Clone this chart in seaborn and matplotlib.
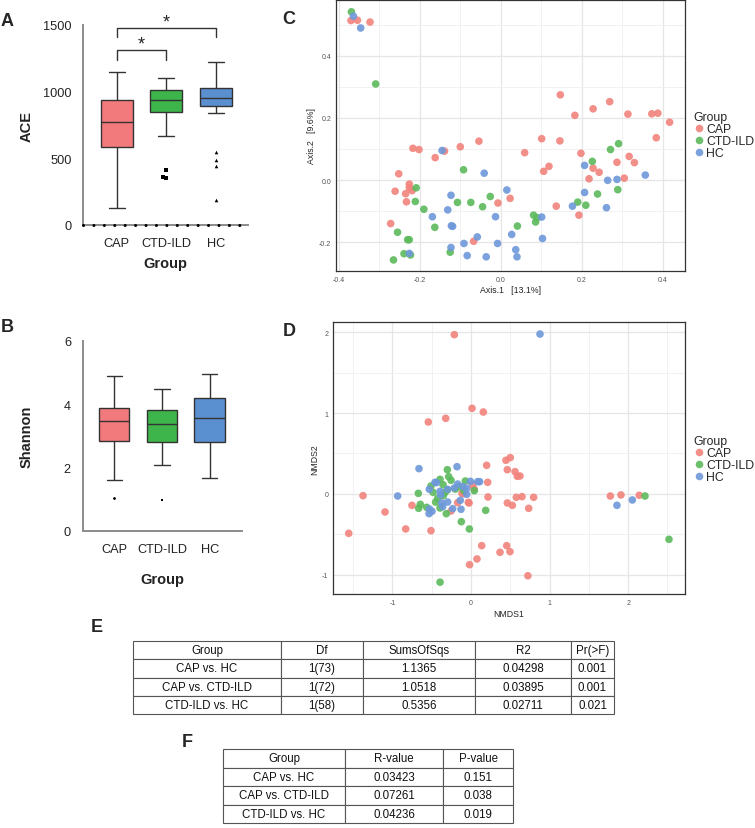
import numpy as np
import pandas as pd
import matplotlib
matplotlib.use('Agg')
import matplotlib.pyplot as plt
import seaborn as sns
from matplotlib.ticker import MultipleLocator, FormatStrFormatter

groups = ['CAP', 'CTD-ILD', 'HC']
box_colors = ['#F27A7D', '#3DB54A', '#5A8FD0']
point_colors = ['#F2837C', '#5CBA5C', '#6E98DA']
group_markers = {'CAP': 'o', 'CTD-ILD': 's', 'HC': '^'}

# min, q1, median, q3, max
ace_summary = {'CAP': [127, 585, 770, 937, 1150],
               'CTD-ILD': [667, 845, 935, 1010, 1105],
               'HC': [837, 890, 955, 1027, 1220]}
ace_outlier_group = ['CTD-ILD', 'CTD-ILD', 'CTD-ILD', 'HC', 'HC', 'HC', 'HC']
ace_outlier_value = [412, 358, 353, 545, 487, 440, 187]

shannon_summary = {'CAP': [1.60, 2.83, 3.45, 3.86, 4.90],
                   'CTD-ILD': [2.06, 2.81, 3.36, 3.82, 4.46],
                   'HC': [1.65, 2.79, 3.55, 4.18, 4.94]}
shannon_outlier_group = ['CAP', 'CTD-ILD']
shannon_outlier_value = [1.04, 0.97]

# PCoA (panel C)
pcoa_cap_x = [-0.370, -0.354, -0.323, -0.217, -0.202, -0.139, -0.100, -0.054, -0.162, -0.252, -0.226,
              -0.226, -0.219, -0.261, -0.235, -0.233, 0.023, -0.007, -0.272, -0.067, 0.147, 0.269,
              0.228, 0.183, 0.314, 0.373, 0.388, 0.417, 0.101, 0.146, 0.384, 0.059, 0.198, 0.317,
              0.287, 0.330, 0.119, 0.228, 0.106, 0.243, 0.218, 0.305, 0.137, 0.193]
pcoa_cap_y = [0.513, 0.514, 0.508, 0.102, 0.098, 0.093, 0.107, 0.125, 0.072, 0.020, -0.013,
              -0.025, -0.034, -0.036, -0.044, -0.070, -0.059, -0.074, -0.140, -0.197, 0.274, 0.252,
              0.229, 0.208, 0.212, 0.213, 0.215, 0.186, 0.133, 0.126, 0.136, 0.088, 0.086, 0.076,
              0.057, 0.056, 0.044, 0.038, 0.028, 0.025, 0.004, 0.006, -0.084, -0.113]
pcoa_ctd_x = [-0.369, -0.309, -0.092, -0.209, -0.026, -0.211, -0.107, -0.074, -0.190, -0.045, -0.163,
              -0.255, -0.230, -0.226, -0.125, -0.239, -0.223, -0.265, 0.291, 0.271, 0.226, 0.289,
              0.239, 0.190, 0.210, 0.081, 0.090, 0.086, 0.041]
pcoa_ctd_y = [0.541, 0.309, 0.033, -0.025, -0.053, -0.069, -0.072, -0.072, -0.094, -0.086, -0.152,
              -0.168, -0.192, -0.192, -0.232, -0.237, -0.241, -0.257, 0.117, 0.098, 0.060, -0.031,
              -0.045, -0.071, -0.081, -0.113, -0.121, -0.135, -0.148]
pcoa_hc_x = [-0.364, -0.346, -0.145, -0.041, -0.123, 0.015, -0.131, -0.169, -0.013, -0.122, -0.119,
             -0.058, -0.091, -0.008, -0.123, 0.027, -0.226, -0.083, -0.036, 0.207, 0.357, 0.287,
             0.264, 0.207, 0.177, 0.261, 0.101, 0.103, 0.037, 0.040]
pcoa_hc_y = [0.527, 0.489, 0.095, 0.022, -0.049, -0.032, -0.096, -0.118, -0.118, -0.147, -0.149,
             -0.183, -0.204, -0.204, -0.217, -0.175, -0.236, -0.243, -0.247, 0.047, 0.016, 0.002,
             -0.001, -0.040, -0.084, -0.089, -0.119, -0.188, -0.224, -0.247]

# NMDS (panel D)
nmds_cap_x = [-0.212, 0.013, 0.157, -0.543, -0.322, -1.556, -1.374, -1.094, -0.831, -0.509, -0.751,
              0.199, 0.212, 0.216, 0.445, 0.500, 0.462, 0.560, 0.589, 0.623, 0.577, 0.649, 0.797,
              0.462, 0.526, 0.734, 0.136, 0.076, 0.369, 0.454, 0.496, -0.018, 0.724, 1.773, 1.908,
              2.141, 0.021, -0.115, -0.025, -0.254, -0.034, -0.170, 0.040, -0.093]
nmds_cap_y = [1.967, 1.058, 1.012, 0.889, 0.934, -0.486, -0.021, -0.222, -0.432, -0.453, -0.140,
              0.354, 0.144, -0.037, 0.416, 0.449, 0.300, 0.276, 0.218, 0.222, -0.041, -0.033, -0.041,
              -0.111, -0.140, -0.177, -0.638, -0.802, -0.720, -0.638, -0.712, -0.873, -1.010, -0.025,
              -0.012, -0.016, 0.111, 0.008, -0.111, -0.210, -0.103, -0.107, 0.060, 0.004]
nmds_ctd_x = [-0.301, -0.284, -0.254, -0.394, -0.356, -0.509, -0.483, -0.072, -0.089, 0.042, -0.424,
              -0.352, -0.394, -0.314, -0.564, -0.670, -0.645, -0.666, 0.187, -0.123, -0.021, 2.214,
              2.519, -0.394, -0.200, -0.300, -0.450, -0.330, -0.150]
nmds_ctd_y = [0.300, 0.214, 0.169, 0.181, 0.115, 0.099, 0.021, 0.160, 0.041, 0.041, -0.053,
              -0.021, -0.173, -0.243, -0.165, 0.008, -0.128, -0.177, -0.202, -0.342, -0.432, -0.025,
              -0.560, -1.089, 0.060, 0.050, -0.100, 0.020, 0.090]
nmds_hc_x = [-0.933, -0.662, -0.178, -0.458, -0.530, -0.394, -0.297, -0.170, -0.212, -0.102, -0.008,
             0.110, -0.055, -0.055, -0.136, -0.127, -0.233, -0.297, -0.373, -0.386, -0.360, -0.496,
             -0.530, -0.534, 0.085, 0.878, 2.053, 1.857, -0.440]
nmds_hc_y = [-0.025, 0.313, 0.337, 0.144, 0.058, 0.033, 0.058, 0.123, 0.074, 0.091, 0.156,
             0.152, 0.070, -0.004, -0.078, -0.189, -0.181, -0.099, -0.111, -0.012, -0.156, -0.214,
             -0.185, -0.243, 0.152, 1.975, -0.074, -0.140, 0.140]

# PERMANOVA (panel E) and ANOSIM (panel F)
comparisons = ['CAP vs. HC', 'CAP vs. CTD-ILD', 'CTD-ILD vs. HC']
permanova_cols = ['Group', 'Df', 'SumsOfSqs', 'R2', 'Pr(>F)']
permanova_df = ['1(73)', '1(72)', '1(58)']
permanova_ss = ['1.1365', '1.0518', '0.5356']
permanova_r2 = ['0.04298', '0.03895', '0.02711']
permanova_p = ['0.001', '0.001', '0.021']
anosim_cols = ['Group', 'R-value', 'P-value']
anosim_r = ['0.03423', '0.07261', '0.04236']
anosim_p = ['0.151', '0.038', '0.019']

W, H = 755, 829


def px_axes(fig, left, top, right, bottom):
    return fig.add_axes([left / W, 1 - bottom / H, (right - left) / W, (bottom - top) / H])


def draw_box(ax, summary, out_group, out_value, marker_size):
    long = pd.DataFrame([(g, v) for g in groups for v in summary[g]], columns=['Group', 'value'])
    sns.boxplot(data=long, x='Group', y='value', hue='Group', order=groups, hue_order=groups,
                palette=box_colors, saturation=1, whis=(0, 100), width=0.64, linecolor='#333333',
                linewidth=1.0, showfliers=False, legend=False, ax=ax)
    out = pd.DataFrame({'Group': out_group, 'value': out_value})
    for g in groups:
        sub = out[out['Group'] == g]
        if len(sub):
            sns.swarmplot(data=sub, x='Group', y='value', order=groups, marker=group_markers[g],
                          color='black', size=marker_size, ax=ax)
    for s in ['top', 'right']:
        ax.spines[s].set_visible(False)
    for s in ['left', 'bottom']:
        ax.spines[s].set_color('#8C8C8C')
        ax.spines[s].set_linewidth(1.4)
    ax.tick_params(axis='both', colors='#8C8C8C', labelcolor='#222222', labelsize=9.2,
                   length=5, width=1.2)
    ax.set_xlabel('Group', fontsize=10.5, fontweight='bold', color='#222222')


def draw_ord(ax, xs, ys, xlabel, ylabel):
    df = pd.DataFrame({'x': sum(xs, []), 'y': sum(ys, []),
                       'Group': sum([[g] * len(x) for g, x in zip(groups, xs)], [])})
    sns.scatterplot(data=df, x='x', y='y', hue='Group', hue_order=groups, palette=point_colors,
                    s=30, alpha=0.9, edgecolor='none', ax=ax, zorder=3)
    ax.grid(which='major', color='#E6E6E6', linewidth=0.9)
    ax.grid(which='minor', color='#EFEFEF', linewidth=0.6)
    ax.set_axisbelow(True)
    for s in ax.spines.values():
        s.set_color('#333333')
        s.set_linewidth(0.9)
    ax.tick_params(which='major', labelsize=5, labelcolor='#555555', length=2, width=0.6, pad=1.5)
    ax.tick_params(which='minor', length=0)
    ax.set_xlabel(xlabel, fontsize=6.3, labelpad=2)
    ax.set_ylabel(ylabel, fontsize=6.3, labelpad=2)


def move_leg(fig, ax, x, y):
    handles, labels = ax.get_legend_handles_labels()
    ax.get_legend().remove()
    fig.legend(handles, labels, title='Group', loc='upper left', bbox_to_anchor=(x / W, 1 - y / H),
               frameon=False, fontsize=8.8, title_fontsize=8.8, handletextpad=0.1, labelspacing=0.0,
               borderpad=0, borderaxespad=0, handlelength=1.0, alignment='left')


def draw_table(ax, header, rows, widths):
    ax.axis('off')
    tbl = ax.table(cellText=rows, colLabels=header, colWidths=widths, cellLoc='center',
                   bbox=[0, 0, 1, 1])
    tbl.auto_set_font_size(False)
    tbl.set_fontsize(8.3)
    for cell in tbl.get_celld().values():
        cell.set_edgecolor('#555555')
        cell.set_linewidth(0.8)
        cell.get_text().set_color('#111111')


if __name__ == '__main__':
    sns.set_style('white')
    plt.rcParams['font.family'] = ['Liberation Sans', 'DejaVu Sans']
    plt.rcParams['axes.unicode_minus'] = False

    fig = plt.figure(figsize=(W / 100, H / 100), dpi=100)

    # A: ACE
    ax = px_axes(fig, 83.3, 26, 248, 226)
    draw_box(ax, ace_summary, ace_outlier_group, ace_outlier_value, 2.6)
    ax.set_ylim(0, 1500)
    ax.set_xlim(-0.67, 2.64)
    ax.set_yticks([0, 500, 1000, 1500])
    ax.set_ylabel('ACE', fontsize=10.5, fontweight='bold', color='#222222')
    ax.yaxis.set_label_coords(-0.30, 0.5)
    ax.xaxis.set_label_coords(0.5, -0.155)
    ax.axhline(0, color='black', lw=2.2, linestyle=(0, (0.01, 3.4)), dash_capstyle='round',
               zorder=5, clip_on=False)
    for (a, b, top, leg) in [(0, 1, 1312, 1237), (0, 2, 1480, 1412)]:
        ax.plot([a, a, b, b], [leg, top, top, leg], color='#333333', lw=1, clip_on=False)
        ax.text((a + b) / 2, top + 45, '*', ha='center', va='center', fontsize=13, clip_on=False)

    # B: Shannon
    ax = px_axes(fig, 82.7, 341.7, 241.7, 531.7)
    draw_box(ax, shannon_summary, shannon_outlier_group, shannon_outlier_value, 2.0)
    ax.set_ylim(0, 6)
    ax.set_xlim(-0.66, 2.67)
    ax.set_yticks([0, 2, 4, 6])
    ax.set_ylabel('Shannon', fontsize=10.5, fontweight='bold', color='#222222')
    ax.yaxis.set_label_coords(-0.31, 0.5)
    ax.xaxis.set_label_coords(0.5, -0.215)

    # C: PCoA
    ax = px_axes(fig, 336, 1, 685, 271.7)
    draw_ord(ax, [pcoa_cap_x, pcoa_ctd_x, pcoa_hc_x], [pcoa_cap_y, pcoa_ctd_y, pcoa_hc_y],
             'Axis.1   [13.1%]', 'Axis.2   [9.6%]')
    ax.set_xlim(-0.407, 0.455)
    ax.set_ylim(-0.2916, 0.579)
    ax.xaxis.set_major_locator(MultipleLocator(0.2))
    ax.xaxis.set_minor_locator(MultipleLocator(0.1))
    ax.yaxis.set_major_locator(MultipleLocator(0.2))
    ax.yaxis.set_minor_locator(MultipleLocator(0.1))
    ax.xaxis.set_major_formatter(FormatStrFormatter('%.1f'))
    ax.yaxis.set_major_formatter(FormatStrFormatter('%.1f'))
    move_leg(fig, ax, 693, 112)

    # D: NMDS
    ax = px_axes(fig, 333, 323.3, 685, 595)
    draw_ord(ax, [nmds_cap_x, nmds_ctd_x, nmds_hc_x], [nmds_cap_y, nmds_ctd_y, nmds_hc_y],
             'NMDS1', 'NMDS2')
    ax.set_xlim(-1.756, 2.723)
    ax.set_ylim(-1.235, 2.12)
    for axis in [ax.xaxis, ax.yaxis]:
        axis.set_major_locator(MultipleLocator(1))
        axis.set_minor_locator(MultipleLocator(0.5))
    move_leg(fig, ax, 693, 436)

    # E: PERMANOVA table
    ax = px_axes(fig, 133, 642, 614, 715)
    draw_table(ax, permanova_cols,
               list(zip(comparisons, permanova_df, permanova_ss, permanova_r2, permanova_p)),
               [148, 82, 112, 96, 43])

    # F: ANOSIM table
    ax = px_axes(fig, 223, 750, 513, 824)
    draw_table(ax, anosim_cols, list(zip(comparisons, anosim_r, anosim_p)), [122, 98, 70])

    for lab, x, y in [('A', 7, 21), ('B', 7, 328), ('C', 289, 20), ('D', 289, 332),
                      ('E', 97, 628), ('F', 187, 743)]:
        fig.text(x / W, 1 - y / H, lab, fontsize=13, fontweight='bold', ha='center', va='center')

    fig.savefig('out.png', dpi=100)
